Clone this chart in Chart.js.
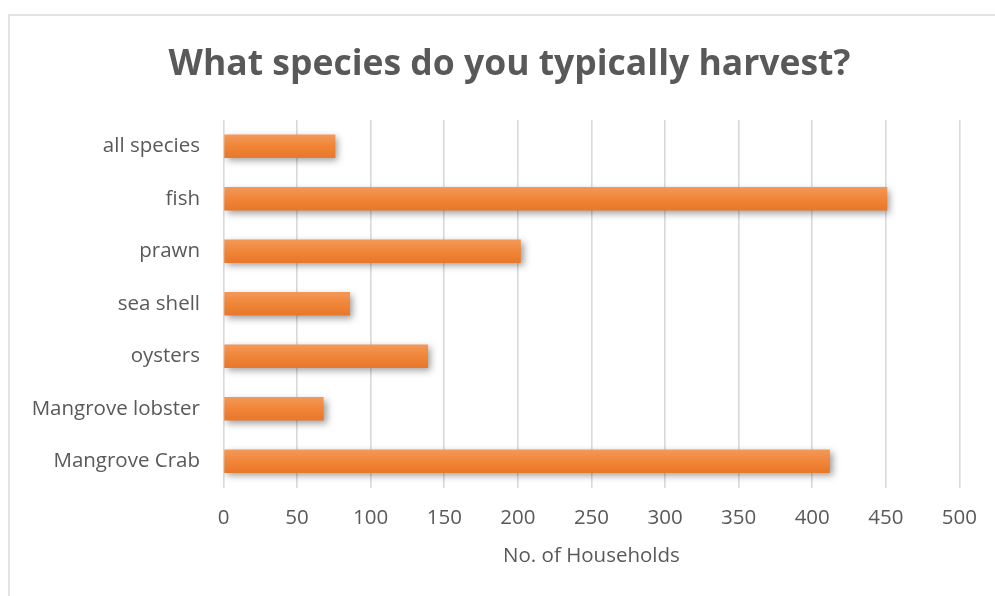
<!DOCTYPE html>
<html>
<head>
<meta charset="utf-8">
<script src="https://cdn.jsdelivr.net/npm/chart.js@4.4.1/dist/chart.umd.min.js"></script>
<style>
  html, body { margin: 0; padding: 0; background: #fff; }
  #wrap { position: relative; width: 995px; height: 596px; overflow: hidden; }
  #frame { position: absolute; left: 8px; top: 14px; width: 990px; height: 600px;
           border: 2px solid #e3e3e3; box-sizing: border-box; }
  canvas { position: absolute; left: 0; top: 0; }
</style>
</head>
<body>
<div id="wrap">
  <div id="frame"></div>
  <canvas id="c" width="995" height="596"></canvas>
</div>
<script>
// Survey responses: households harvesting each species
const categories = ['all species', 'fish', 'prawn', 'sea shell', 'oysters', 'Mangrove lobster', 'Mangrove Crab'];
const households = [76, 451, 202, 86, 139, 68, 412];
const xTicks = [0, 50, 100, 150, 200, 250, 300, 350, 400, 450, 500];

const FONT = "'Open Sans', 'DejaVu Sans', sans-serif";
const TEXT = '#595959';

// per-bar vertical gradient, light on top, deeper orange below
function barFill(ctx) {
  const chart = ctx.chart;
  const ys = chart.scales && chart.scales.y;
  if (!chart.chartArea || !ys || ctx.dataIndex === undefined) return '#ef8636';
  const yc = ys.getPixelForValue(ctx.dataIndex);
  const half = 12;
  const g = chart.ctx.createLinearGradient(0, yc - half, 0, yc + half);
  g.addColorStop(0, '#f3995a');
  g.addColorStop(0.5, '#f08538');
  g.addColorStop(1, '#e8772a');
  return g;
}

// soft drop shadow under the bars
const barShadow = {
  id: 'barShadow',
  beforeDatasetsDraw(chart) {
    const c = chart.ctx;
    c.save();
    c.shadowColor = 'rgba(0,0,0,0.38)';
    c.shadowBlur = 7;
    c.shadowOffsetX = 3;
    c.shadowOffsetY = 3;
  },
  afterDatasetsDraw(chart) {
    chart.ctx.restore();
  }
};

// centre the title over the framed panel rather than the whole canvas
const titleCentre = {
  id: 'titleCentre',
  afterLayout(chart) {
    const t = chart.titleBlock;
    if (t) { t.left = 24; t.right = 995; }
  }
};

new Chart(document.getElementById('c'), {
  type: 'bar',
  data: {
    labels: categories,
    datasets: [{
      data: households,
      backgroundColor: barFill,
      borderWidth: 0,
      barPercentage: 0.45,
      categoryPercentage: 1
    }]
  },
  plugins: [barShadow, titleCentre],
  options: {
    indexAxis: 'y',
    responsive: false,
    animation: false,
    layout: { padding: { left: 0, right: 33, top: 0, bottom: 0 } },
    plugins: {
      legend: { display: false },
      tooltip: { enabled: false },
      title: {
        display: true,
        text: 'What species do you typically harvest?',
        color: TEXT,
        font: { family: FONT, size: 35.5, weight: 'bold', lineHeight: 1.2 },
        padding: { top: 43.7, bottom: 33.7 }
      }
    },
    scales: {
      x: {
        min: 0, max: 500,
        afterBuildTicks(scale) { scale.ticks = xTicks.map(v => ({ value: v })); },
        afterFit(scale) { scale.height = 108.5; },
        grid: { color: '#d9d9d9', lineWidth: 1.6, drawTicks: false },
        border: { display: false },
        ticks: { color: TEXT, font: { family: FONT, size: 20.5 }, padding: 18 },
        title: {
          display: true,
          text: 'No. of Households',
          color: TEXT,
          font: { family: FONT, size: 20.5 },
          padding: { top: 0, bottom: 27.5 }
        }
      },
      y: {
        afterFit(scale) { scale.width = 223.5; },
        grid: { display: false, drawTicks: false },
        border: { display: false },
        ticks: { color: TEXT, font: { family: FONT, size: 20.5 }, padding: 23.5 }
      }
    }
  }
});
</script>
</body>
</html>
